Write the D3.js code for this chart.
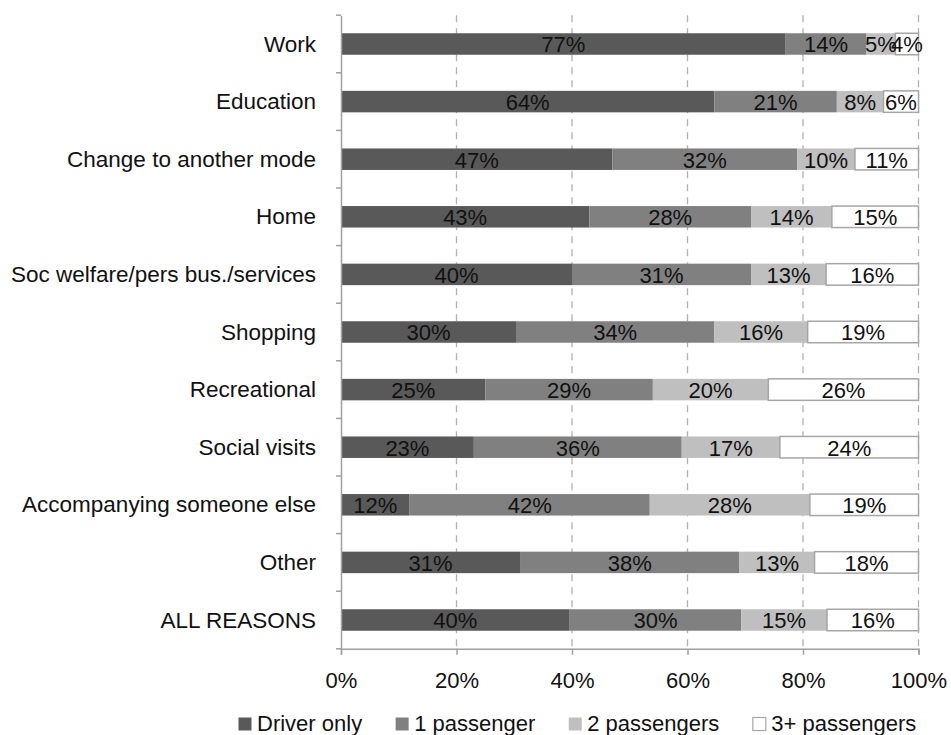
<!DOCTYPE html>
<html>
<head>
<meta charset="utf-8">
<script src="https://cdn.jsdelivr.net/npm/d3@7"></script>
<style>
  html, body { margin: 0; padding: 0; background: #fff; }
  svg text { font-family: "Liberation Sans", Arial, sans-serif; fill: #111; }
</style>
</head>
<body>
<svg id="chart" width="951" height="735"></svg>
<script>
// Trip purpose by car occupancy (share of trips, %)
const categories = [
  "Work",
  "Education",
  "Change to another mode",
  "Home",
  "Soc welfare/pers bus./services",
  "Shopping",
  "Recreational",
  "Social visits",
  "Accompanying someone else",
  "Other",
  "ALL REASONS"
];
const driverOnly    = [77, 64, 47, 43, 40, 30, 25, 23, 12, 31, 40];
const onePassenger  = [14, 21, 32, 28, 31, 34, 29, 36, 42, 38, 30];
const twoPassengers = [ 5,  8, 10, 14, 13, 16, 20, 17, 28, 13, 15];
const threePlus     = [ 4,  6, 11, 15, 16, 19, 26, 24, 19, 18, 16];
const seriesNames   = ["Driver only", "1 passenger", "2 passengers", "3+ passengers"];
const xTickValues   = [0, 0.2, 0.4, 0.6, 0.8, 1.0];

const seriesValues = [driverOnly, onePassenger, twoPassengers, threePlus];
const fills   = ["#595959", "#808080", "#bfbfbf", "#ffffff"];
const strokes = ["none", "none", "none", "#a6a6a6"];

const svg = d3.select("#chart");
const margin = { left: 341, right: 951 - 918.5, top: 15.2, bottom: 735 - 648.8 };
const width = 951 - margin.left - margin.right;
const height = 735 - margin.top - margin.bottom;

const rows = categories.map((c, i) => {
  const r = { category: c };
  seriesNames.forEach((s, k) => { r[s] = seriesValues[k][i]; });
  return r;
});

// 100% stacked: each row is expanded to fill the full width
const stacked = d3.stack().keys(seriesNames).offset(d3.stackOffsetExpand)(rows);

const x = d3.scaleLinear().domain([0, 1]).range([0, width]);
const y = d3.scaleBand().domain(categories).range([0, height]).paddingInner(0.627).paddingOuter(0.3135);

const g = svg.append("g").attr("transform", `translate(${margin.left},${margin.top})`);

// dashed vertical gridlines
g.append("g")
  .selectAll("line")
  .data(xTickValues.slice(1))
  .join("line")
  .attr("x1", d => x(d)).attr("x2", d => x(d))
  .attr("y1", 0).attr("y2", height)
  .attr("stroke", "#b0b0b0")
  .attr("stroke-width", 1.3)
  .attr("stroke-dasharray", "7,6");

// bars
const layers = g.append("g").selectAll("g")
  .data(stacked)
  .join("g")
  .attr("fill", (d, i) => fills[i])
  .attr("stroke", (d, i) => strokes[i])
  .attr("stroke-width", 1.5);

layers.selectAll("rect")
  .data(d => d)
  .join("rect")
  .attr("x", d => x(d[0]))
  .attr("width", d => x(d[1]) - x(d[0]))
  .attr("y", d => y(d.data.category))
  .attr("height", y.bandwidth());

// value labels
const labels = g.append("g");
stacked.forEach((layer) => {
  labels.selectAll(null)
    .data(layer)
    .join("text")
    .attr("x", d => x((d[0] + d[1]) / 2))
    .attr("y", d => y(d.data.category) + y.bandwidth() / 2)
    .attr("dy", "0.38em")
    .attr("text-anchor", "middle")
    .style("font-size", "22px")
    .text(d => d.data[layer.key] + "%");
});

// y axis
const yAxis = d3.axisLeft(y).tickSize(0).tickPadding(25);
const yg = g.append("g").call(yAxis);
yg.select(".domain").attr("stroke", "#a0a0a0").attr("stroke-width", 1.5);
yg.selectAll("text").style("font-size", "22.5px").attr("fill", "#111").attr("dy", "0.34em");
// tick marks at the band boundaries
const bounds = d3.range(categories.length + 1).map(i => i * height / categories.length);
g.append("g").selectAll("line")
  .data(bounds)
  .join("line")
  .attr("x1", -5).attr("x2", 0)
  .attr("y1", d => d).attr("y2", d => d)
  .attr("stroke", "#a0a0a0").attr("stroke-width", 1.5);

// x axis
const xAxis = d3.axisBottom(x).tickValues(xTickValues).tickFormat(d3.format(".0%")).tickSize(6).tickPadding(17.5);
const xg = g.append("g").attr("transform", `translate(0,${height})`).call(xAxis);
xg.select(".domain").attr("stroke", "#a0a0a0").attr("stroke-width", 1.5);
xg.selectAll(".tick line").attr("stroke", "#a0a0a0").attr("stroke-width", 1.5);
xg.selectAll("text").style("font-size", "22px").attr("fill", "#111");

// legend
const legend = svg.append("g").attr("transform", "translate(238,731)");
let lx = 0;
seriesNames.forEach((name, i) => {
  const item = legend.append("g").attr("transform", `translate(${lx},0)`);
  item.append("rect")
    .attr("x", 0.5).attr("y", -13.5).attr("width", 13).attr("height", 13)
    .attr("fill", fills[i])
    .attr("stroke", strokes[i] === "none" ? "none" : strokes[i])
    .attr("stroke-width", 1.2);
  const t = item.append("text")
    .attr("x", 19).attr("y", 0)
    .style("font-size", "22px")
    .text(name);
  lx += 19 + t.node().getComputedTextLength() + 33;
});
</script>
</body>
</html>
